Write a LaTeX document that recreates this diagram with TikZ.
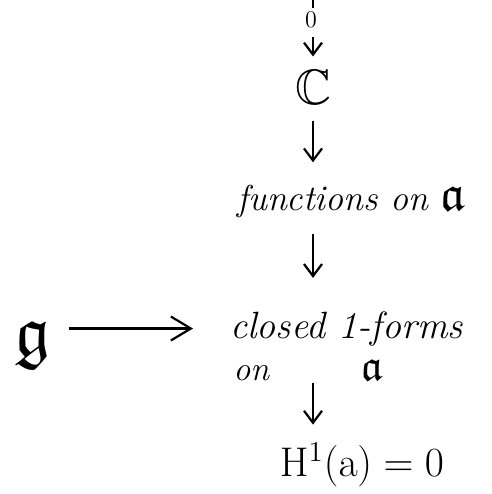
\documentclass[tikz,border=0pt]{standalone}
\usepackage{amsmath,amssymb}
\usetikzlibrary{arrows.meta,positioning}
\newcommand{\liea}[1][25]{{\fontsize{#1}{28}\selectfont$\mathfrak{a}$}}

\begin{document}
\begin{tikzpicture}[x=0.5pt, y=-0.5pt,
  lbl/.style={inner sep=0pt, font=\fontsize{19}{23}\selectfont\itshape},
  arrow/.style={-{Straight Barb[length=6pt, width=9pt]}, line width=1.1pt},
]
  \useasboundingbox (0,0) rectangle (492,494);
  \coordinate (top) at (313,0);
  \node[font=\fontsize{12}{14}\selectfont, inner sep=0pt] (zero) at (311,20) {$0$};
  \node[font=\fontsize{24.88}{28}\selectfont, inner sep=0pt] (C) at (313,87) {$\mathbb{C}$};
  \node[lbl, anchor=base west, font=\fontsize{18}{22}\selectfont\itshape] (fun) at (237,210) {functions on \liea};
  \node[lbl, anchor=base west] (cl) at (230,338) {closed 1-forms};
  \node[lbl, anchor=base west, font=\fontsize{17}{20}\selectfont\itshape] (on) at (233,380) {on\hspace{2.7em}\liea[22]};
  \node[font=\fontsize{36}{40}\selectfont, inner sep=0pt] (g) at (33,345) {$\mathfrak{g}$};
  \node[font=\fontsize{20}{24}\selectfont, inner sep=0pt] (H) at (362,465) {$\mathrm{H}^1(\mathrm{a})=0$};
  % the sequence
  \draw[line width=1.1pt, shorten >=2pt] (top) -- (top |- zero.north);
  \draw[arrow, shorten <=4.5pt, shorten >=6.5pt] (zero.south -| C) -- (C.north);
  \draw[arrow, shorten <=8pt, shorten >=11pt] (C.south) -- (C.south |- fun.north);
  \draw[arrow, shorten <=8pt, shorten >=16.5pt] (C |- fun.south) -- (C |- cl.north);
  \draw[arrow, shorten <=1pt, shorten >=9pt] (C |- on.south) -- (C |- H.north);
  \draw[arrow, -{Straight Barb[length=10pt, width=12pt]}, shorten <=8.5pt, shorten >=18.5pt] (g.east |- cl.west) -- (cl.west);
\end{tikzpicture}
\end{document}
